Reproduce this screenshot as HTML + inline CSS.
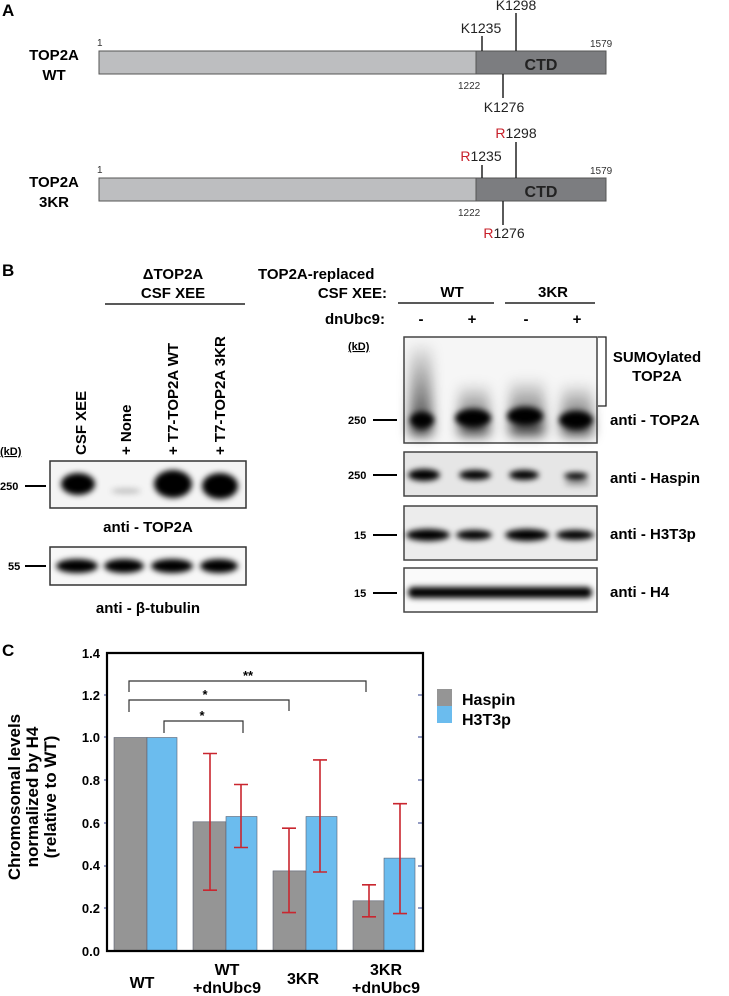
<!DOCTYPE html>
<html><head><meta charset="utf-8"><style>
html,body{margin:0;padding:0;background:#fff}
svg{display:block}
text{font-family:"Liberation Sans",sans-serif}
.b{font-weight:bold}
</style></head><body>
<svg width="729" height="996" viewBox="0 0 729 996" xmlns="http://www.w3.org/2000/svg">
<defs>
<filter id="bl" x="-50%" y="-100%" width="200%" height="300%"><feGaussianBlur stdDeviation="3"/></filter>
<filter id="bl2" x="-50%" y="-100%" width="200%" height="300%"><feGaussianBlur stdDeviation="6"/></filter>
<linearGradient id="smear" x1="0" y1="0" x2="0" y2="1"><stop offset="0" stop-color="#000" stop-opacity="0.05"/><stop offset="0.7" stop-color="#000" stop-opacity="0.55"/><stop offset="1" stop-color="#000" stop-opacity="0.9"/></linearGradient>
</defs>
<!-- Panel A -->
<text x="2" y="16" class="b" font-size="17">A</text>
<g font-size="15" class="b" text-anchor="middle"><text x="54" y="60">TOP2A</text><text x="54" y="80">WT</text>
<text x="54" y="187">TOP2A</text><text x="54" y="207">3KR</text></g>
<rect x="99" y="51" width="377" height="23" fill="#bdbec0" stroke="#555" stroke-width="1"/>
<rect x="476" y="51" width="130" height="23" fill="#7c7d80" stroke="#555" stroke-width="1"/>
<text x="541" y="70" font-size="16" class="b" fill="#222" text-anchor="middle">CTD</text>
<rect x="99" y="178" width="377" height="23" fill="#bdbec0" stroke="#555" stroke-width="1"/>
<rect x="476" y="178" width="130" height="23" fill="#7c7d80" stroke="#555" stroke-width="1"/>
<text x="541" y="197" font-size="16" class="b" fill="#222" text-anchor="middle">CTD</text>
<g font-family="DejaVu Sans Mono" font-size="10" fill="#333">
<text x="97" y="46">1</text><text x="590" y="47">1579</text><text x="458" y="89">1222</text>
<text x="97" y="173">1</text><text x="590" y="174">1579</text><text x="458" y="216">1222</text></g>
<g stroke="#222" stroke-width="1.5">
<line x1="482" y1="36" x2="482" y2="51"/><line x1="516" y1="13" x2="516" y2="51"/><line x1="503" y1="74" x2="503" y2="98"/>
<line x1="482" y1="165" x2="482" y2="178"/><line x1="516" y1="142" x2="516" y2="178"/><line x1="503" y1="201" x2="503" y2="225"/></g>
<g font-size="14" fill="#222" text-anchor="middle">
<text x="481" y="33">K1235</text><text x="516" y="10">K1298</text><text x="504" y="112">K1276</text>
<text x="481" y="161"><tspan fill="#c8202a">R</tspan>1235</text><text x="516" y="138"><tspan fill="#c8202a">R</tspan>1298</text><text x="504" y="238"><tspan fill="#c8202a">R</tspan>1276</text></g>

<!-- Panel B -->
<text x="2" y="276" class="b" font-size="17">B</text>
<g class="b" font-size="15" text-anchor="middle"><text x="173" y="279">ΔTOP2A</text><text x="173" y="298">CSF XEE</text></g>
<line x1="105" y1="304" x2="245" y2="304" stroke="#222" stroke-width="1.5"/>
<g class="b" font-size="15">
<text transform="translate(86,455) rotate(-90)">CSF XEE</text>
<text transform="translate(131,455) rotate(-90)">+ None</text>
<text transform="translate(178,455) rotate(-90)">+ T7-TOP2A WT</text>
<text transform="translate(225,455) rotate(-90)">+ T7-TOP2A 3KR</text></g>
<text x="0" y="455" class="b" font-size="11" text-decoration="underline">(kD)</text>
<text x="0" y="490" class="b" font-size="11">250</text><line x1="25" y1="486" x2="46" y2="486" stroke="#000" stroke-width="2"/>
<rect x="50" y="461" width="196" height="47" fill="#f4f4f4" stroke="#333" stroke-width="1.5"/>
<g filter="url(#bl)">
<ellipse cx="78" cy="484" rx="17" ry="11" fill="#000"/>
<ellipse cx="126" cy="491" rx="15" ry="3" fill="#000" opacity="0.2"/>
<ellipse cx="173" cy="484" rx="19" ry="14" fill="#000"/>
<ellipse cx="220" cy="486" rx="18" ry="13" fill="#000"/></g>
<text x="148" y="532" class="b" font-size="15" text-anchor="middle">anti - TOP2A</text>
<text x="8" y="570" class="b" font-size="11">55</text><line x1="25" y1="566" x2="46" y2="566" stroke="#000" stroke-width="2"/>
<rect x="50" y="547" width="196" height="38" fill="#f7f7f7" stroke="#333" stroke-width="1.5"/>
<g filter="url(#bl)" fill="#000">
<ellipse cx="77" cy="566" rx="21" ry="7"/><ellipse cx="124" cy="566" rx="20" ry="7"/><ellipse cx="172" cy="566" rx="21" ry="7"/><ellipse cx="219" cy="566" rx="19" ry="7"/></g>
<text x="148" y="613" class="b" font-size="15" text-anchor="middle">anti - β-tubulin</text>

<g class="b" font-size="15"><text x="258" y="279">TOP2A-replaced</text><text x="387" y="298" text-anchor="end">CSF XEE:</text>
<text x="452" y="297" text-anchor="middle">WT</text><text x="553" y="297" text-anchor="middle">3KR</text>
<text x="385" y="324" text-anchor="end">dnUbc9:</text>
<text x="421" y="324" text-anchor="middle">-</text><text x="472" y="324" text-anchor="middle">+</text><text x="526" y="324" text-anchor="middle">-</text><text x="577" y="324" text-anchor="middle">+</text></g>
<line x1="398" y1="303" x2="494" y2="303" stroke="#222" stroke-width="1.5"/><line x1="505" y1="303" x2="595" y2="303" stroke="#222" stroke-width="1.5"/>
<text x="348" y="350" class="b" font-size="11" text-decoration="underline">(kD)</text>
<rect x="404" y="337" width="193" height="106" fill="#f6f6f6" stroke="#444" stroke-width="1.5"/>
<g filter="url(#bl2)">
<rect x="410" y="345" width="22" height="90" fill="url(#smear)"/>
<rect x="459" y="385" width="30" height="50" fill="url(#smear)"/>
<rect x="510" y="380" width="34" height="55" fill="url(#smear)"/>
<rect x="562" y="385" width="30" height="50" fill="url(#smear)"/></g>
<g filter="url(#bl)" fill="#000"><ellipse cx="422" cy="420" rx="12" ry="8"/><ellipse cx="473" cy="418" rx="18" ry="9"/><ellipse cx="525" cy="416" rx="18" ry="9"/><ellipse cx="576" cy="420" rx="17" ry="9"/></g>
<text x="348" y="424" class="b" font-size="11">250</text><line x1="373" y1="420" x2="397" y2="420" stroke="#000" stroke-width="2"/>
<path d="M598 337 H606 V406 H598" fill="none" stroke="#222" stroke-width="1.3"/>
<g class="b" font-size="15" text-anchor="middle"><text x="657" y="362">SUMOylated</text><text x="657" y="381">TOP2A</text></g>
<g font-size="15" class="b"><text x="610" y="425">anti - TOP2A</text><text x="610" y="483">anti - Haspin</text><text x="610" y="539">anti - H3T3p</text><text x="610" y="597">anti - H4</text></g>
<rect x="404" y="452" width="193" height="44" fill="#e6e6e6" stroke="#444" stroke-width="1.5"/>
<g filter="url(#bl)" fill="#000"><ellipse cx="424" cy="475" rx="16" ry="6"/><ellipse cx="475" cy="475" rx="16" ry="5"/><ellipse cx="524" cy="475" rx="15" ry="5"/><ellipse cx="576" cy="476" rx="12" ry="3.5"/><ellipse cx="577" cy="483" rx="13" ry="3" opacity="0.3"/></g>
<text x="348" y="479" class="b" font-size="11">250</text><line x1="373" y1="475" x2="397" y2="475" stroke="#000" stroke-width="2"/>
<rect x="404" y="506" width="193" height="54" fill="#ececec" stroke="#444" stroke-width="1.5"/>
<g filter="url(#bl)" fill="#000"><ellipse cx="428" cy="535" rx="22" ry="6"/><ellipse cx="474" cy="535" rx="18" ry="5"/><ellipse cx="527" cy="535" rx="22" ry="6"/><ellipse cx="575" cy="535" rx="19" ry="5"/></g>
<text x="354" y="539" class="b" font-size="11">15</text><line x1="373" y1="535" x2="397" y2="535" stroke="#000" stroke-width="2"/>
<rect x="404" y="568" width="193" height="44" fill="#fafafa" stroke="#444" stroke-width="1.5"/>
<g filter="url(#bl)" fill="#000"><rect x="408" y="587" width="184" height="11" rx="5"/></g>
<text x="354" y="597" class="b" font-size="11">15</text><line x1="373" y1="593" x2="397" y2="593" stroke="#000" stroke-width="2"/>

<!-- Panel C -->
<text x="2" y="656" class="b" font-size="17">C</text>
<g class="b" font-size="17" text-anchor="middle">
<text transform="translate(20,797) rotate(-90)">Chromosomal levels</text>
<text transform="translate(38,797) rotate(-90)">normalized by H4</text>
<text transform="translate(56,797) rotate(-90)">(relative to WT)</text></g>
<g class="b" font-size="13" text-anchor="end">
<text x="100" y="658">1.4</text><text x="100" y="700">1.2</text><text x="100" y="742">1.0</text><text x="100" y="785">0.8</text><text x="100" y="828">0.6</text><text x="100" y="870">0.4</text><text x="100" y="913">0.2</text><text x="100" y="956">0.0</text></g>
<g stroke="#2a3a8a" stroke-width="1">
<line x1="104" y1="695" x2="108" y2="695"/><line x1="104" y1="737" x2="108" y2="737"/><line x1="104" y1="780" x2="108" y2="780"/><line x1="104" y1="823" x2="108" y2="823"/><line x1="104" y1="866" x2="108" y2="866"/><line x1="104" y1="908" x2="108" y2="908"/>
<line x1="418" y1="695" x2="423" y2="695"/><line x1="418" y1="737" x2="423" y2="737"/><line x1="418" y1="780" x2="423" y2="780"/><line x1="418" y1="823" x2="423" y2="823"/><line x1="418" y1="866" x2="423" y2="866"/><line x1="418" y1="908" x2="423" y2="908"/></g>
<g stroke="#5a6070" stroke-width="0.6">
<rect x="114" y="737.5" width="33" height="213.5" fill="#959595"/><rect x="147" y="737.5" width="30" height="213.5" fill="#6bbcee"/>
<rect x="193" y="821.8" width="33" height="129.2" fill="#959595"/><rect x="226" y="816.5" width="31" height="134.5" fill="#6bbcee"/>
<rect x="273" y="870.9" width="33" height="80.1" fill="#959595"/><rect x="306" y="816.5" width="31" height="134.5" fill="#6bbcee"/>
<rect x="353" y="900.8" width="31" height="50.2" fill="#959595"/><rect x="384" y="858.1" width="31" height="92.9" fill="#6bbcee"/></g>
<g stroke="#c9262f" stroke-width="1.6" fill="none">
<path d="M210 753.5V890.2M203 753.5h14M203 890.2h14"/>
<path d="M241 784.5V847.5M234 784.5h14M234 847.5h14"/>
<path d="M289 828.2V912.6M282 828.2h14M282 912.6h14"/>
<path d="M320 759.9V872M313 759.9h14M313 872h14"/>
<path d="M369 884.8V916.8M362 884.8h14M362 916.8h14"/>
<path d="M400 803.7V913.6M393 803.7h14M393 913.6h14"/></g>
<path d="M107 653V951H423V653Z" fill="none" stroke="#000" stroke-width="2.2"/>
<g stroke="#333" stroke-width="1.2" fill="none">
<path d="M129 692V681H366V692"/><path d="M129 712V700H289V711"/><path d="M164 733V721H243V733"/></g>
<g font-size="13" class="b" text-anchor="middle"><text x="248" y="680">**</text><text x="205" y="699">*</text><text x="202" y="720">*</text></g>
<rect x="437" y="689" width="15" height="17" fill="#959595"/><rect x="437" y="706" width="15" height="17" fill="#6bbcee"/>
<g class="b" font-size="16"><text x="462" y="705">Haspin</text><text x="462" y="725">H3T3p</text></g>
<g class="b" font-size="16" text-anchor="middle">
<text x="142" y="988">WT</text>
<text x="227" y="975">WT</text><text x="227" y="993">+dnUbc9</text>
<text x="303" y="984">3KR</text>
<text x="386" y="975">3KR</text><text x="386" y="993">+dnUbc9</text></g>
</svg>
</body></html>
